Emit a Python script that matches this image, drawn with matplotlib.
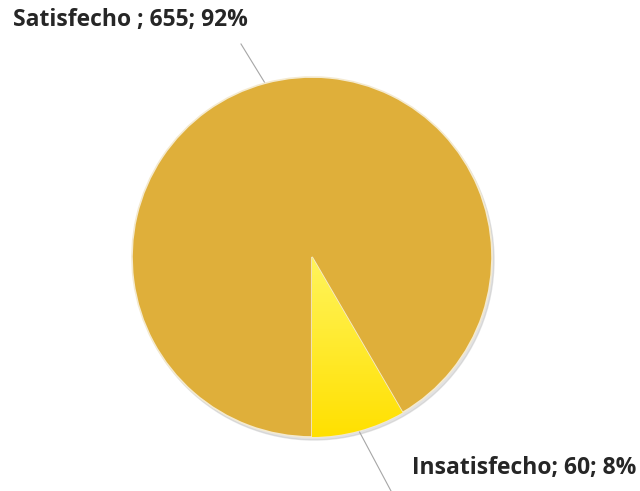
import matplotlib
matplotlib.use("Agg")
import matplotlib.pyplot as plt
import numpy as np
from matplotlib.colors import LinearSegmentedColormap

labels = ["Insatisfecho", "Satisfecho "]
values = [60, 655]
percents = ["8%", "92%"]
colors = ["#FFE81A", "#DFAF3A"]

fig = plt.figure(figsize=(6.4, 4.91), dpi=100)
ax = fig.add_axes([0, 0, 1, 1])

cx, cy, r = 312, 234, 180

# soft shadow
shadow = plt.Circle((cx + 2, cy - 3), r, color="#c0c0c0", alpha=0.45, zorder=0)
ax.add_patch(shadow)

wedges, _ = ax.pie(values, colors=colors, startangle=-90, counterclock=True,
                   center=(cx, cy), radius=r, frame=True,
                   wedgeprops=dict(edgecolor="#f4ead0", linewidth=1.2))
ax.set_xlim(0, 640)
ax.set_ylim(0, 491)
ax.set_aspect("equal")
ax.axis("off")

# gradient on the small slice
w = wedges[0]
grad = np.linspace(0, 1, 256).reshape(-1, 1)
cmap = LinearSegmentedColormap.from_list("yel", ["#FFE000", "#FFF45C"])
im = ax.imshow(grad, cmap=cmap, extent=[cx, cx + r, cy - r, cy], origin="lower",
               aspect="auto", zorder=w.get_zorder() + 0.1)
im.set_clip_path(w)

font = dict(family=["Open Sans", "DejaVu Sans"], fontweight="bold",
            fontsize=16.5, color="#262626")

# leader lines and labels
pos = {0: (412, 491 - 468, (391, 0)),
       1: (13, 491 - 20, (241, 491 - 44))}
for i, wd in enumerate(wedges):
    ang = np.deg2rad((wd.theta1 + wd.theta2) / 2)
    ex, ey = cx + r * np.cos(ang), cy + r * np.sin(ang)
    tx, ty, lend = pos[i]
    ax.plot([ex, lend[0]], [ey, lend[1]], color="#a6a6a6", lw=0.8, zorder=0.5)
    txt = f"{labels[i]}; {values[i]}; {percents[i]}"
    ax.text(tx, ty, txt, ha="left", va="center", **font)

fig.savefig("out.png", dpi=100)
